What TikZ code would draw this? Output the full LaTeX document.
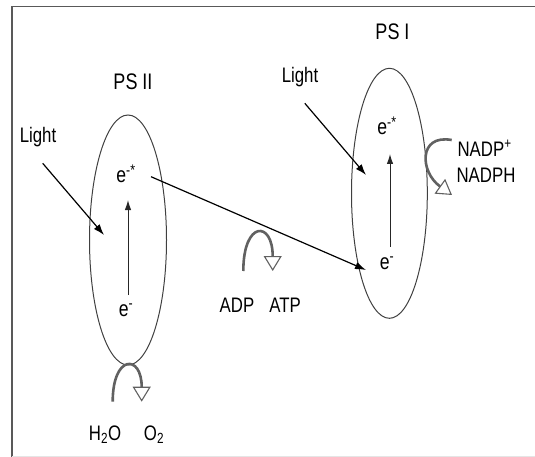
\documentclass[tikz,border=0pt]{standalone}
\usepackage{fontspec}
\setmainfont[FakeStretch=0.8]{Liberation Sans}
\usetikzlibrary{arrows.meta}
\begin{document}
\begin{tikzpicture}[x=1pt,y=-1pt,
  txt/.style={inner sep=0pt,font=\fontsize{21}{23}\selectfont},
  pstxt/.style={inner sep=0pt,font=\fontsize{22.5}{25}\selectfont},
  etxt/.style={inner sep=0pt,font=\fontsize{22}{24}\selectfont},
  psell/.style={draw=black!75,line width=1pt},
  blk/.style={draw=black,line width=1.2pt,-{Latex[length=11pt,width=7.5pt]}},
  thin/.style={draw=black!85,line width=1pt,-{Latex[length=10pt,width=6.5pt]}},
  curv/.style={draw=black!62,line width=2.6pt,-{Triangle[open,length=15pt,width=18pt,line width=1.1pt,fill=white]}}
]
\useasboundingbox (0,0) rectangle (535,457);
% frame
\draw[black!65,line width=1.6pt] (12,457) -- (12,6.7) -- (535,6.7);
\draw[black!10,line width=1pt] (12,456) -- (535,456);
% ellipses
\draw[psell] (128,240) ellipse [x radius=38.5,y radius=125];
\draw[psell] (389.4,193.3) ellipse [x radius=37.9,y radius=125];
% labels
\node[pstxt] (ps2) at (133,81.7) {PS II};
\node[pstxt] (ps1) at (392.5,31.7) {PS I};
\node[txt] (l1) at (38,136.7) {Light};
\node[txt] (l2) at (300,76.7) {Light};
\node[etxt] (e2s) at (126,174) {e\textsuperscript{-*}};
\node[etxt] (e2) at (126,310) {e\textsuperscript{-}};
\node[etxt] (e1s) at (387,126) {e\textsuperscript{-*}};
\node[etxt] (e1) at (387,263.3) {e\textsuperscript{-}};
\node[txt] (nadp) at (484.6,148.3) {NADP\textsuperscript{+}};
\node[txt] (nadph) at (486,175) {NADPH};
\node[txt] (adp) at (237,305) {ADP};
\node[txt] (atp) at (285,305) {ATP};
\node[txt] (h2o) at (105,435) {H\textsubscript{2}O};
\node[txt] (o2) at (154,435) {O\textsubscript{2}};
% coordinates
\coordinate (la1) at (42.7,163.3);
\coordinate (lb1) at (104,235);
\coordinate (la2) at (304.8,103.3);
\coordinate (lb2) at (366,175);
\coordinate (va2) at (128,295);
\coordinate (vb2) at (128,200);
\coordinate (va1) at (390,246.7);
\coordinate (vb1) at (390,154);
\coordinate (ta) at (151,176.7);
\coordinate (tb) at (366,270);
% arrows
\draw[blk] (la1) -- (lb1);
\draw[blk] (la2) -- (lb2);
\draw[blk] (ta) -- (tb);
\draw[thin] (va2) -- (vb2);
\draw[thin] (va1) -- (vb1);
% curved arrows
\coordinate (ca1) at (243.3,271);
\coordinate (cb1) at (272.7,271);
\draw[curv] (ca1) .. controls (243.3,220.4) and (272.7,220.4) .. (cb1);
\coordinate (ca2) at (112.7,401.7);
\coordinate (cb2) at (141.7,401.7);
\draw[curv] (ca2) .. controls (112.7,354.1) and (141.7,354.1) .. (cb2);
\coordinate (ca3) at (451.7,140);
\coordinate (cb3) at (452,195);
\draw[curv] (ca3) .. controls (418,134) and (420,172) .. (cb3);
\end{tikzpicture}
\end{document}
